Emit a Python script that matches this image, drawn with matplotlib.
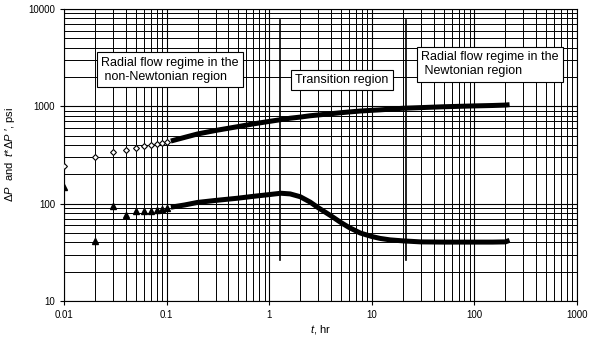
import matplotlib
matplotlib.use("Agg")
import matplotlib.pyplot as plt
from matplotlib.ticker import LogLocator, NullFormatter, FixedLocator, FixedFormatter

plt.rcParams['font.family'] = ['Liberation Sans', 'DejaVu Sans']
plt.rcParams['mathtext.fontset'] = 'custom'
plt.rcParams['mathtext.rm'] = 'Liberation Sans'
plt.rcParams['mathtext.it'] = 'Liberation Sans:italic'

# early, individually visible samples
t_early = [0.01, 0.02, 0.03, 0.04, 0.05, 0.06, 0.07, 0.08, 0.09, 0.1]
dp_early = [246, 305, 337, 359, 377, 389, 402, 411, 421, 431]
der_early = [148, 41, 95, 76, 84, 84, 85, 87, 88.5, 90]

# dense part of the record
t_dense = [0.11, 0.15, 0.2, 0.3, 0.5, 0.7, 1.0, 1.3, 1.6, 2.0, 2.5, 3.0, 4.0, 5.0,
           6.0, 7.7, 10, 12, 15, 20, 30, 50, 100, 150, 200, 220]
dp_dense = [440, 480, 520, 565, 620, 660, 700, 730, 755, 775, 800, 815, 840, 860,
            875, 895, 910, 920, 935, 955, 970, 990, 1010, 1020, 1030, 1040]
der_dense = [92, 97, 103, 108, 114, 119, 124, 128, 126, 118, 104, 91, 75, 64,
             57, 50, 46, 44, 42.5, 41.5, 40.5, 40.3, 40.3, 40.3, 40.5, 42]

region_lines = [1.27, 21.5]
region_span = (26.5, 7700)

fig = plt.figure(figsize=(5.96, 3.39), dpi=100)
ax = fig.add_axes([0.1074, 0.112, 0.8608, 0.8615])
ax.set_xscale('log')
ax.set_yscale('log')
ax.set_xlim(0.01, 1000)
ax.set_ylim(10, 10000)

ax.grid(True, which='major', color='black', lw=0.8)
ax.grid(True, which='minor', color='black', lw=0.7)
ax.xaxis.set_minor_locator(LogLocator(base=10, subs=range(2, 10), numticks=20))
ax.yaxis.set_minor_locator(LogLocator(base=10, subs=range(2, 10), numticks=20))
ax.xaxis.set_minor_formatter(NullFormatter())
ax.yaxis.set_minor_formatter(NullFormatter())
ax.tick_params(which='minor', length=0)
ax.tick_params(which='major', length=3, width=0.8, labelsize=7, direction='out')

xt = [0.01, 0.1, 1, 10, 100, 1000]
yt = [10, 100, 1000, 10000]
ax.xaxis.set_major_locator(FixedLocator(xt))
ax.xaxis.set_major_formatter(FixedFormatter(['0.01', '0.1', '1', '10', '100', '1000']))
ax.yaxis.set_major_locator(FixedLocator(yt))
ax.yaxis.set_major_formatter(FixedFormatter(['10', '100', '1000', '10000']))
for s in ax.spines.values():
    s.set_color('black')
    s.set_linewidth(0.8)

# pressure change: open diamonds
ax.plot(t_dense, dp_dense, color='black', lw=3.6, solid_capstyle='butt', zorder=3)
ax.plot(t_early, dp_early, ls='none', marker='D', ms=3, mfc='white', mec='black',
        mew=0.8, zorder=4)
# derivative: filled triangles
ax.plot(t_dense, der_dense, color='black', lw=3.6, solid_capstyle='butt', zorder=3)
ax.plot(t_early, der_early, ls='none', marker='^', ms=4, color='black', zorder=4)

for xv in region_lines:
    ax.plot([xv, xv], region_span, color='black', lw=1.2, zorder=5)

box = dict(boxstyle='square,pad=0.35', fc='white', ec='black', lw=0.8)
ax.text(0.0229, 3250, 'Radial flow regime in the\n non-Newtonian region', fontsize=9,
        ha='left', va='top', bbox=box, zorder=6, linespacing=1.25)
ax.text(1.78, 2150, 'Transition region', fontsize=9, ha='left', va='top', bbox=box, zorder=6)
ax.text(30.1, 3700, 'Radial flow regime in the\n Newtonian region', fontsize=9,
        ha='left', va='top', bbox=box, zorder=6, linespacing=1.25)

ax.set_xlabel(r'$t$, hr', fontsize=8, labelpad=2)
ax.set_ylabel(r'$\Delta P$  and  $t$*$\Delta P$ $\mathrm{\prime}$, psi', fontsize=8, labelpad=8)

fig.savefig('out.png', dpi=100)
